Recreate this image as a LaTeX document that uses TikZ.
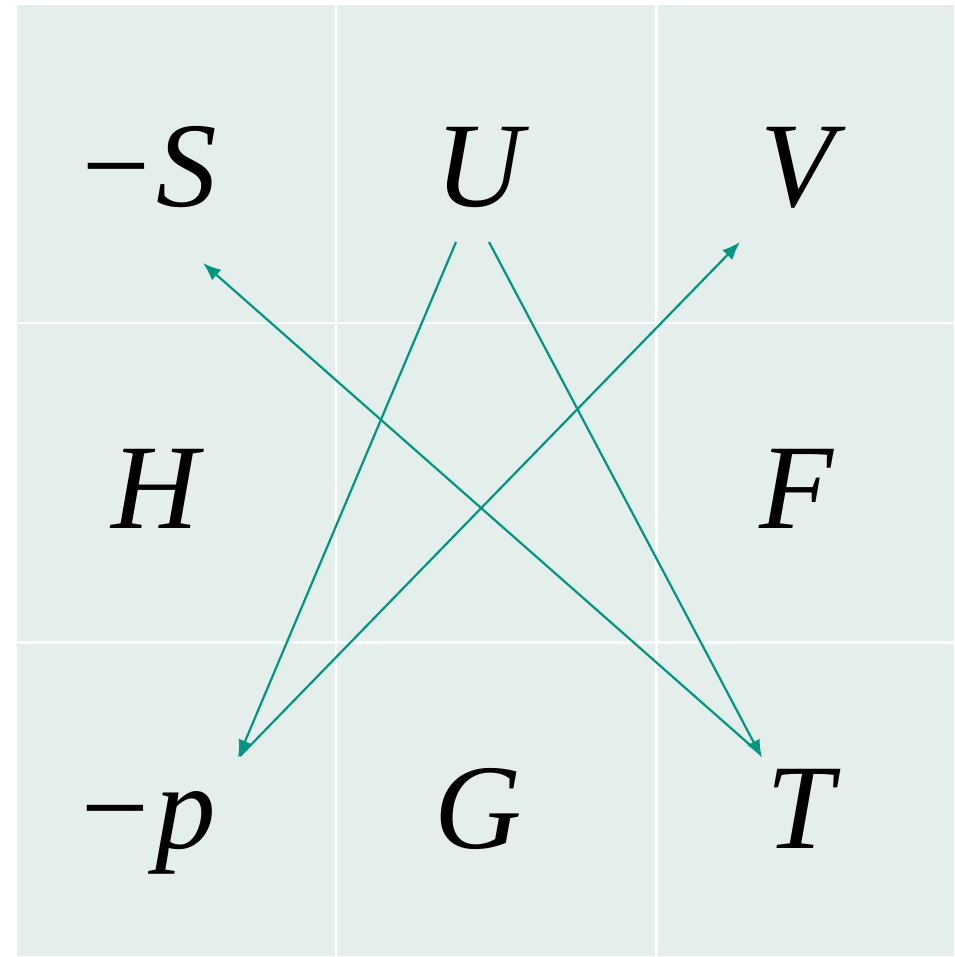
\documentclass[tikz,border=0pt]{standalone}
\usepackage{fontspec}
\setmainfont{Liberation Serif}
\usepackage{tikz}
\usepackage{xcolor}
\usetikzlibrary{arrows.meta, calc}
\definecolor{cCell}{RGB}{228,238,235}
\definecolor{cTeal}{RGB}{0,150,130}
\tikzset{
	var/.style   ={anchor=base, inner sep=0pt, font=\fontsize{121}{125}\selectfont\itshape},
	relarrow/.style={-{Latex[length=18pt, width=14pt]}, cTeal, line width=2.2pt},
	gridline/.style={white, line width=2.5pt},
}

\begin{document}
\begin{tikzpicture}[x=1pt, y=-1pt]
	\useasboundingbox (0,0) rectangle (954,957);
	\fill[white] (0,0) rectangle (954,957);
	\fill[cCell] (17,5) rectangle (954,956);
	% grid separators
	\foreach \xx in {336,656.5} \draw[gridline] (\xx,5) -- (\xx,956);
	\foreach \yy in {323,642.5} \draw[gridline] (17,\yy) -- (954,\yy);
	% state variables and potentials
	\node[var] (S) at (146,207) {−S};
	\node[var] (U) at (479,207) {U};
	\node[var] (V) at (797,207) {V};
	\node[var] (H) at (155,528) {H};
	\node[var] (F) at (796,528) {F};
	\node[var] (p) at (145,848) {−p};
	\node[var] (G) at (478,848) {G};
	\node[var] (T) at (800,848) {T};
	% arrow ends
	\coordinate (u1) at ($(U.base)+(-23,35)$);
	\coordinate (u2) at ($(U.base)+(10,35)$);
	\coordinate (s1) at ($(S.base)+(57,56)$);
	\coordinate (v1) at ($(V.base)+(-57,35)$);
	\coordinate (p1) at ($(p.base)+(93,-90)$);
	\coordinate (p2) at ($(p.base)+(95,-92)$);
	\coordinate (t1) at ($(T.base)+(-38,-90)$);
	\coordinate (t2) at ($(T.base)+(-42,-96)$);
	\draw[relarrow] (u1) -- (p1);
	\draw[relarrow] (u2) -- (t1);
	\draw[relarrow] (t2) -- (s1);
	\draw[relarrow] (p2) -- (v1);
\end{tikzpicture}
\end{document}
